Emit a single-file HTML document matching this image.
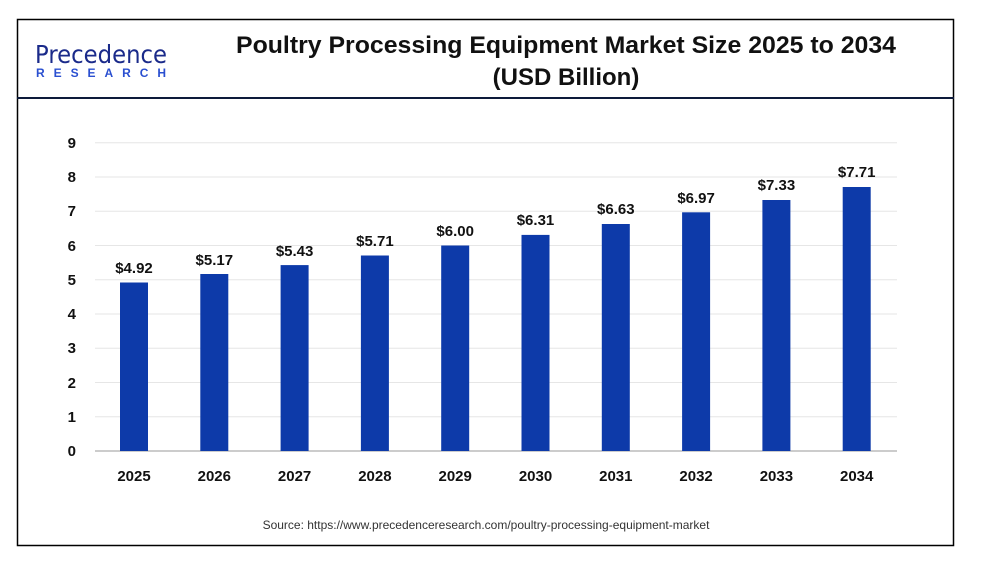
<!DOCTYPE html>
<html><head><meta charset="utf-8"><style>
body{margin:0;background:#fff;width:1003px;height:562px;overflow:hidden;font-family:"Liberation Sans",sans-serif}
</style></head><body>
<svg width="1003" height="562" xmlns="http://www.w3.org/2000/svg" font-family="Liberation Sans, sans-serif">
<rect x="17.5" y="19.5" width="936" height="526" fill="#fff" stroke="#000" stroke-width="1.5"/>
<line x1="17" y1="98" x2="954" y2="98" stroke="#0d1a3a" stroke-width="2"/>
<text x="35" y="63" font-size="25" fill="#1a2a8a" font-family="DejaVu Sans, sans-serif" textLength="132" lengthAdjust="spacingAndGlyphs">Precedence</text>
<text x="36" y="77" font-size="12" fill="#2a4fd0" font-weight="bold" textLength="130" lengthAdjust="spacing">RESEARCH</text>
<text x="566" y="53" font-size="24" font-weight="bold" text-anchor="middle" fill="#111" textLength="660" lengthAdjust="spacingAndGlyphs">Poultry Processing Equipment Market Size 2025 to 2034</text>
<text x="566" y="85" font-size="24" font-weight="bold" text-anchor="middle" fill="#111">(USD Billion)</text>
<g stroke="#e6e6e6" stroke-width="1">
<line x1="95" x2="897" y1="142.8" y2="142.8"/><line x1="95" x2="897" y1="177" y2="177"/><line x1="95" x2="897" y1="211.3" y2="211.3"/><line x1="95" x2="897" y1="245.5" y2="245.5"/><line x1="95" x2="897" y1="279.8" y2="279.8"/><line x1="95" x2="897" y1="314" y2="314"/><line x1="95" x2="897" y1="348.3" y2="348.3"/><line x1="95" x2="897" y1="382.5" y2="382.5"/><line x1="95" x2="897" y1="416.8" y2="416.8"/>
</g>
<line x1="95" x2="897" y1="451" y2="451" stroke="#bbb" stroke-width="1.5"/>
<g font-size="15" font-weight="bold" fill="#111" text-anchor="end">
<text x="76" y="456">0</text><text x="76" y="422">1</text><text x="76" y="388">2</text><text x="76" y="353">3</text><text x="76" y="319">4</text><text x="76" y="285">5</text><text x="76" y="251">6</text><text x="76" y="216">7</text><text x="76" y="182">8</text><text x="76" y="148">9</text>
</g>
<g fill="#0d3aa9">
<rect x="120" y="282.5" width="28" height="168.5"/>
<rect x="200.3" y="274" width="28" height="177"/>
<rect x="280.6" y="265.1" width="28" height="185.9"/>
<rect x="360.9" y="255.5" width="28" height="195.5"/>
<rect x="441.2" y="245.5" width="28" height="205.5"/>
<rect x="521.5" y="234.9" width="28" height="216.1"/>
<rect x="601.8" y="224" width="28" height="227"/>
<rect x="682.1" y="212.3" width="28" height="238.7"/>
<rect x="762.4" y="200" width="28" height="251"/>
<rect x="842.7" y="187" width="28" height="264"/>
</g>
<g font-size="15" font-weight="bold" fill="#111" text-anchor="middle">
<text x="134" y="273">$4.92</text><text x="214.3" y="265">$5.17</text><text x="294.6" y="256">$5.43</text><text x="374.9" y="246">$5.71</text><text x="455.2" y="236">$6.00</text><text x="535.5" y="225">$6.31</text><text x="615.8" y="214">$6.63</text><text x="696.1" y="203">$6.97</text><text x="776.4" y="190">$7.33</text><text x="856.7" y="177">$7.71</text>
<text x="134" y="481">2025</text><text x="214.3" y="481">2026</text><text x="294.6" y="481">2027</text><text x="374.9" y="481">2028</text><text x="455.2" y="481">2029</text><text x="535.5" y="481">2030</text><text x="615.8" y="481">2031</text><text x="696.1" y="481">2032</text><text x="776.4" y="481">2033</text><text x="856.7" y="481">2034</text>
</g>
<text x="486" y="529" font-size="12" fill="#333" text-anchor="middle">Source: https://www.precedenceresearch.com/poultry-processing-equipment-market</text>
</svg>
</body></html>
